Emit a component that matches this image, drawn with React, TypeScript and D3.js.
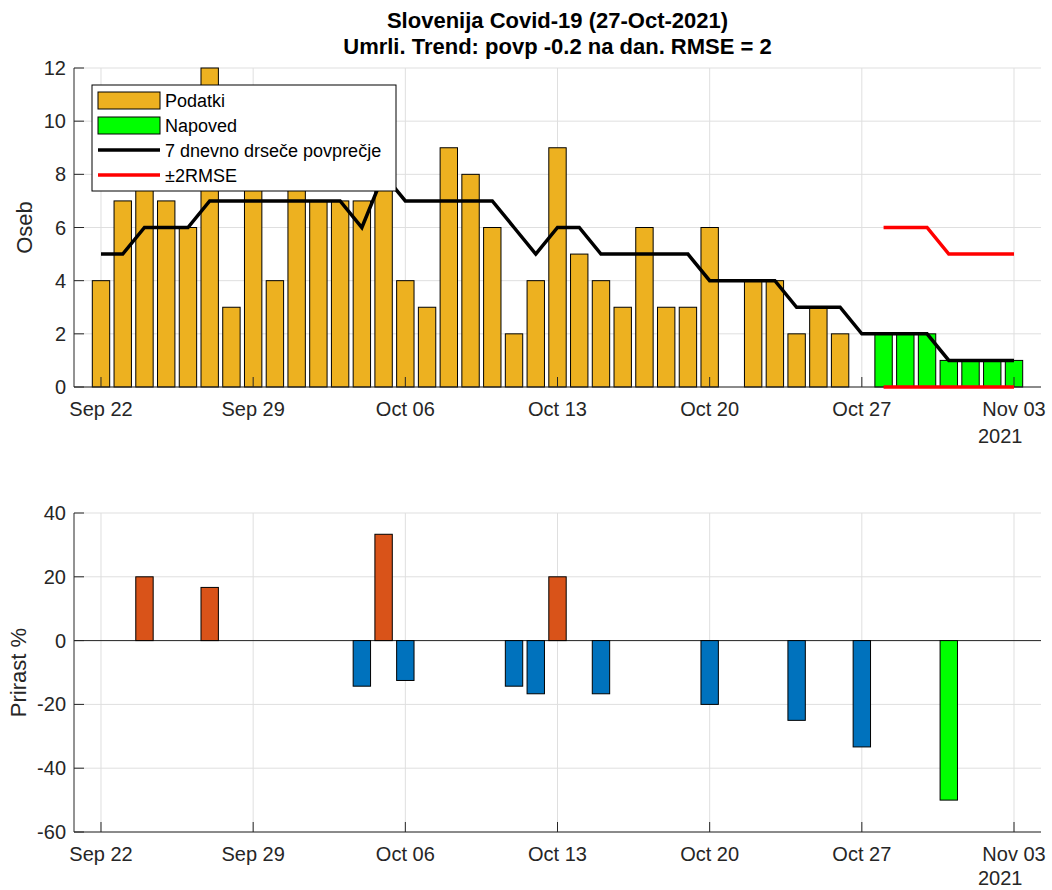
import React from 'react';
import * as d3 from 'd3';

const DAY = 86400000;
const startDate = Date.UTC(2021, 8, 22);
const endDate = Date.UTC(2021, 10, 3);

// Daily deaths, Sep 22 .. Oct 27
const dataValues = [4, 7, 8, 7, 6, 12, 3, 8, 4, 8, 7, 7, 7, 11, 4, 3, 9, 8, 6, 2, 4, 9, 5, 4, 3, 6, 3, 3, 6, 0, 4, 4, 2, 3, 2, 0];
// Forecast, Oct 28 .. Nov 03
const forecastValues = [2, 2, 2, 1, 1, 1, 1];
// 7-day moving average, Sep 22 .. Nov 03
const movingAverage = [5, 5, 6, 6, 6, 7, 7, 7, 7, 7, 7, 7, 6, 8, 7, 7, 7, 7, 7, 6, 5, 6, 6, 5, 5, 5, 5, 5, 4, 4, 4, 4, 3, 3, 3, 2, 2, 2, 2, 1, 1, 1, 1];
// ±2RMSE band, Oct 28 .. Nov 03
const upperBand = [6, 6, 6, 5, 5, 5, 5];
const lowerBand = [0, 0, 0, 0, 0, 0, 0];
// Growth % of moving average, Sep 22 .. Nov 03
const growthPct = [0, 0, 20, 0, 0, 16.67, 0, 0, 0, 0, 0, 0, -14.29, 33.33, -12.5, 0, 0, 0, 0, -14.29, -16.67, 20, 0, -16.67, 0, 0, 0, 0, -20, 0, 0, 0, -25, 0, 0, -33.33, 0, 0, 0, -50, 0, 0, 0];

const topTicks = [0, 2, 4, 6, 8, 10, 12];
const bottomTicks = [-60, -40, -20, 0, 20, 40];
const legendLabels = ['Podatki', 'Napoved', '7 dnevno drseče povprečje', '±2RMSE'];
const titleLines = ['Slovenija Covid-19 (27-Oct-2021)', 'Umrli. Trend: povp -0.2 na dan. RMSE = 2'];

const FONT = '"Liberation Sans", Arial, Helvetica, sans-serif';
const AX = '#262626';
const GRID = '#dfdfdf';
const C_DATA = '#EDB120';
const C_FC = '#00FF00';
const C_POS = '#D95319';
const C_NEG = '#0072BD';

const W = 1052, H = 890;
const L = 74, R = 1041;
const T1 = 68, B1 = 387, T2 = 513, B2 = 832;

const dayAt = (i: number) => startDate + i * DAY;

export default function App() {
  const x = d3.scaleUtc().domain([new Date(startDate - 1.242 * DAY), new Date(endDate + 1.242 * DAY)]).range([L, R]);
  const y1 = d3.scaleLinear().domain([0, 12]).range([B1, T1]);
  const y2 = d3.scaleLinear().domain([-60, 40]).range([B2, T2]);
  const ticks = d3.utcDay.range(new Date(startDate), new Date(endDate + DAY), 7);
  const fmt = d3.utcFormat('%b %d');
  const bw = (x(new Date(dayAt(1))) - x(new Date(dayAt(0)))) * 0.8;

  const nData = dataValues.length;
  const line1 = d3.line<number>().x((_, i) => x(new Date(dayAt(i)))).y((v) => y1(v));
  const bandLine = d3.line<number>().x((_, i) => x(new Date(dayAt(nData + i)))).y((v) => y1(v));

  const axisFrame = (y: d3.ScaleLinear<number, number>, yt: number[], top: number, bottom: number, key: string) => (
    <g key={key}>
      {yt.map((t) => (
        <line key={'gy' + t} x1={L} x2={R} y1={y(t)} y2={y(t)} stroke={GRID} strokeWidth={1} />
      ))}
      {ticks.map((t) => (
        <line key={'gx' + +t} x1={x(t)} x2={x(t)} y1={top} y2={bottom} stroke={GRID} strokeWidth={1} />
      ))}
    </g>
  );

  const axisLines = (y: d3.ScaleLinear<number, number>, yt: number[], top: number, bottom: number, key: string, yearY: number) => (
    <g key={key} fontFamily={FONT} fill={AX}>
      <line x1={L} x2={L} y1={top} y2={bottom} stroke={AX} strokeWidth={1} />
      <line x1={L} x2={R} y1={bottom} y2={bottom} stroke={AX} strokeWidth={1} />
      {yt.map((t) => (
        <g key={'ty' + t}>
          <line x1={L} x2={L + 10} y1={y(t)} y2={y(t)} stroke={AX} strokeWidth={1} />
          <text x={L - 8} y={y(t)} dy="0.35em" textAnchor="end" fontSize={20}>{t}</text>
        </g>
      ))}
      {ticks.map((t) => (
        <g key={'tx' + +t}>
          <line x1={x(t)} x2={x(t)} y1={bottom} y2={bottom - 10} stroke={AX} strokeWidth={1} />
          <text x={x(t)} y={bottom + 29} textAnchor="middle" fontSize={20}>{fmt(t)}</text>
        </g>
      ))}
      <text x={1022.5} y={yearY} textAnchor="end" fontSize={20}>2021</text>
    </g>
  );

  return (
    <svg width={W} height={H} style={{ position: 'absolute', left: 0, top: 0, background: '#fff' }}>
      <rect x={0} y={0} width={W} height={H} fill="#fff" />
      {/* Title */}
      <g fontFamily={FONT} fontWeight="bold" fontSize={22} textAnchor="middle" fill="#000">
        <text x={(L + R) / 2} y={28}>{titleLines[0]}</text>
        <text x={(L + R) / 2} y={54}>{titleLines[1]}</text>
      </g>

      {/* Top axes */}
      {axisFrame(y1, topTicks, T1, B1, 'f1')}
      <g stroke="#000" strokeWidth={1}>
        {dataValues.map((v, i) =>
          v > 0 ? (
            <rect key={'d' + i} x={x(new Date(dayAt(i))) - bw / 2} y={y1(v)} width={bw} height={y1(0) - y1(v)} fill={C_DATA} />
          ) : null
        )}
        {forecastValues.map((v, i) =>
          v > 0 ? (
            <rect key={'f' + i} x={x(new Date(dayAt(nData + i))) - bw / 2} y={y1(v)} width={bw} height={y1(0) - y1(v)} fill={C_FC} />
          ) : null
        )}
      </g>
      {axisLines(y1, topTicks, T1, B1, 'a1', B1 + 56)}
      <path d={line1(movingAverage) || ''} fill="none" stroke="#000" strokeWidth={3.5} strokeLinejoin="miter" />
      <path d={bandLine(upperBand) || ''} fill="none" stroke="#FF0000" strokeWidth={3.5} />
      <path d={bandLine(lowerBand) || ''} fill="none" stroke="#FF0000" strokeWidth={3.5} />
      <text transform={`translate(32,${(T1 + B1) / 2}) rotate(-90)`} textAnchor="middle" fontFamily={FONT} fontSize={22} fill={AX}>Oseb</text>

      {/* Legend */}
      <g fontFamily={FONT} fontSize={18} fill="#000">
        <rect x={92} y={85} width={304} height={106} fill="#fff" stroke="#000" strokeWidth={1} />
        <rect x={98} y={92} width={62} height={17} fill={C_DATA} stroke="#000" strokeWidth={1} />
        <rect x={98} y={117} width={62} height={17} fill={C_FC} stroke="#000" strokeWidth={1} />
        <line x1={98} x2={160} y1={150} y2={150} stroke="#000" strokeWidth={3.5} />
        <line x1={98} x2={160} y1={175} y2={175} stroke="#FF0000" strokeWidth={3.5} />
        {legendLabels.map((s, i) => (
          <text key={s} x={165} y={107 + i * 25}>{s}</text>
        ))}
      </g>

      {/* Bottom axes */}
      {axisFrame(y2, bottomTicks, T2, B2, 'f2')}
      <line x1={L} x2={R} y1={y2(0)} y2={y2(0)} stroke={AX} strokeWidth={1} />
      <g stroke="#000" strokeWidth={1}>
        {growthPct.map((v, i) => {
          if (v === 0) return null;
          const fill = i >= nData ? C_FC : v > 0 ? C_POS : C_NEG;
          return (
            <rect key={'g' + i} x={x(new Date(dayAt(i))) - bw / 2} y={Math.min(y2(v), y2(0))} width={bw} height={Math.abs(y2(v) - y2(0))} fill={fill} />
          );
        })}
      </g>
      {axisLines(y2, bottomTicks, T2, B2, 'a2', 885)}
      <text transform={`translate(26,${(T2 + B2) / 2}) rotate(-90)`} textAnchor="middle" fontFamily={FONT} fontSize={22} fill={AX}>Prirast %</text>
    </svg>
  );
}
